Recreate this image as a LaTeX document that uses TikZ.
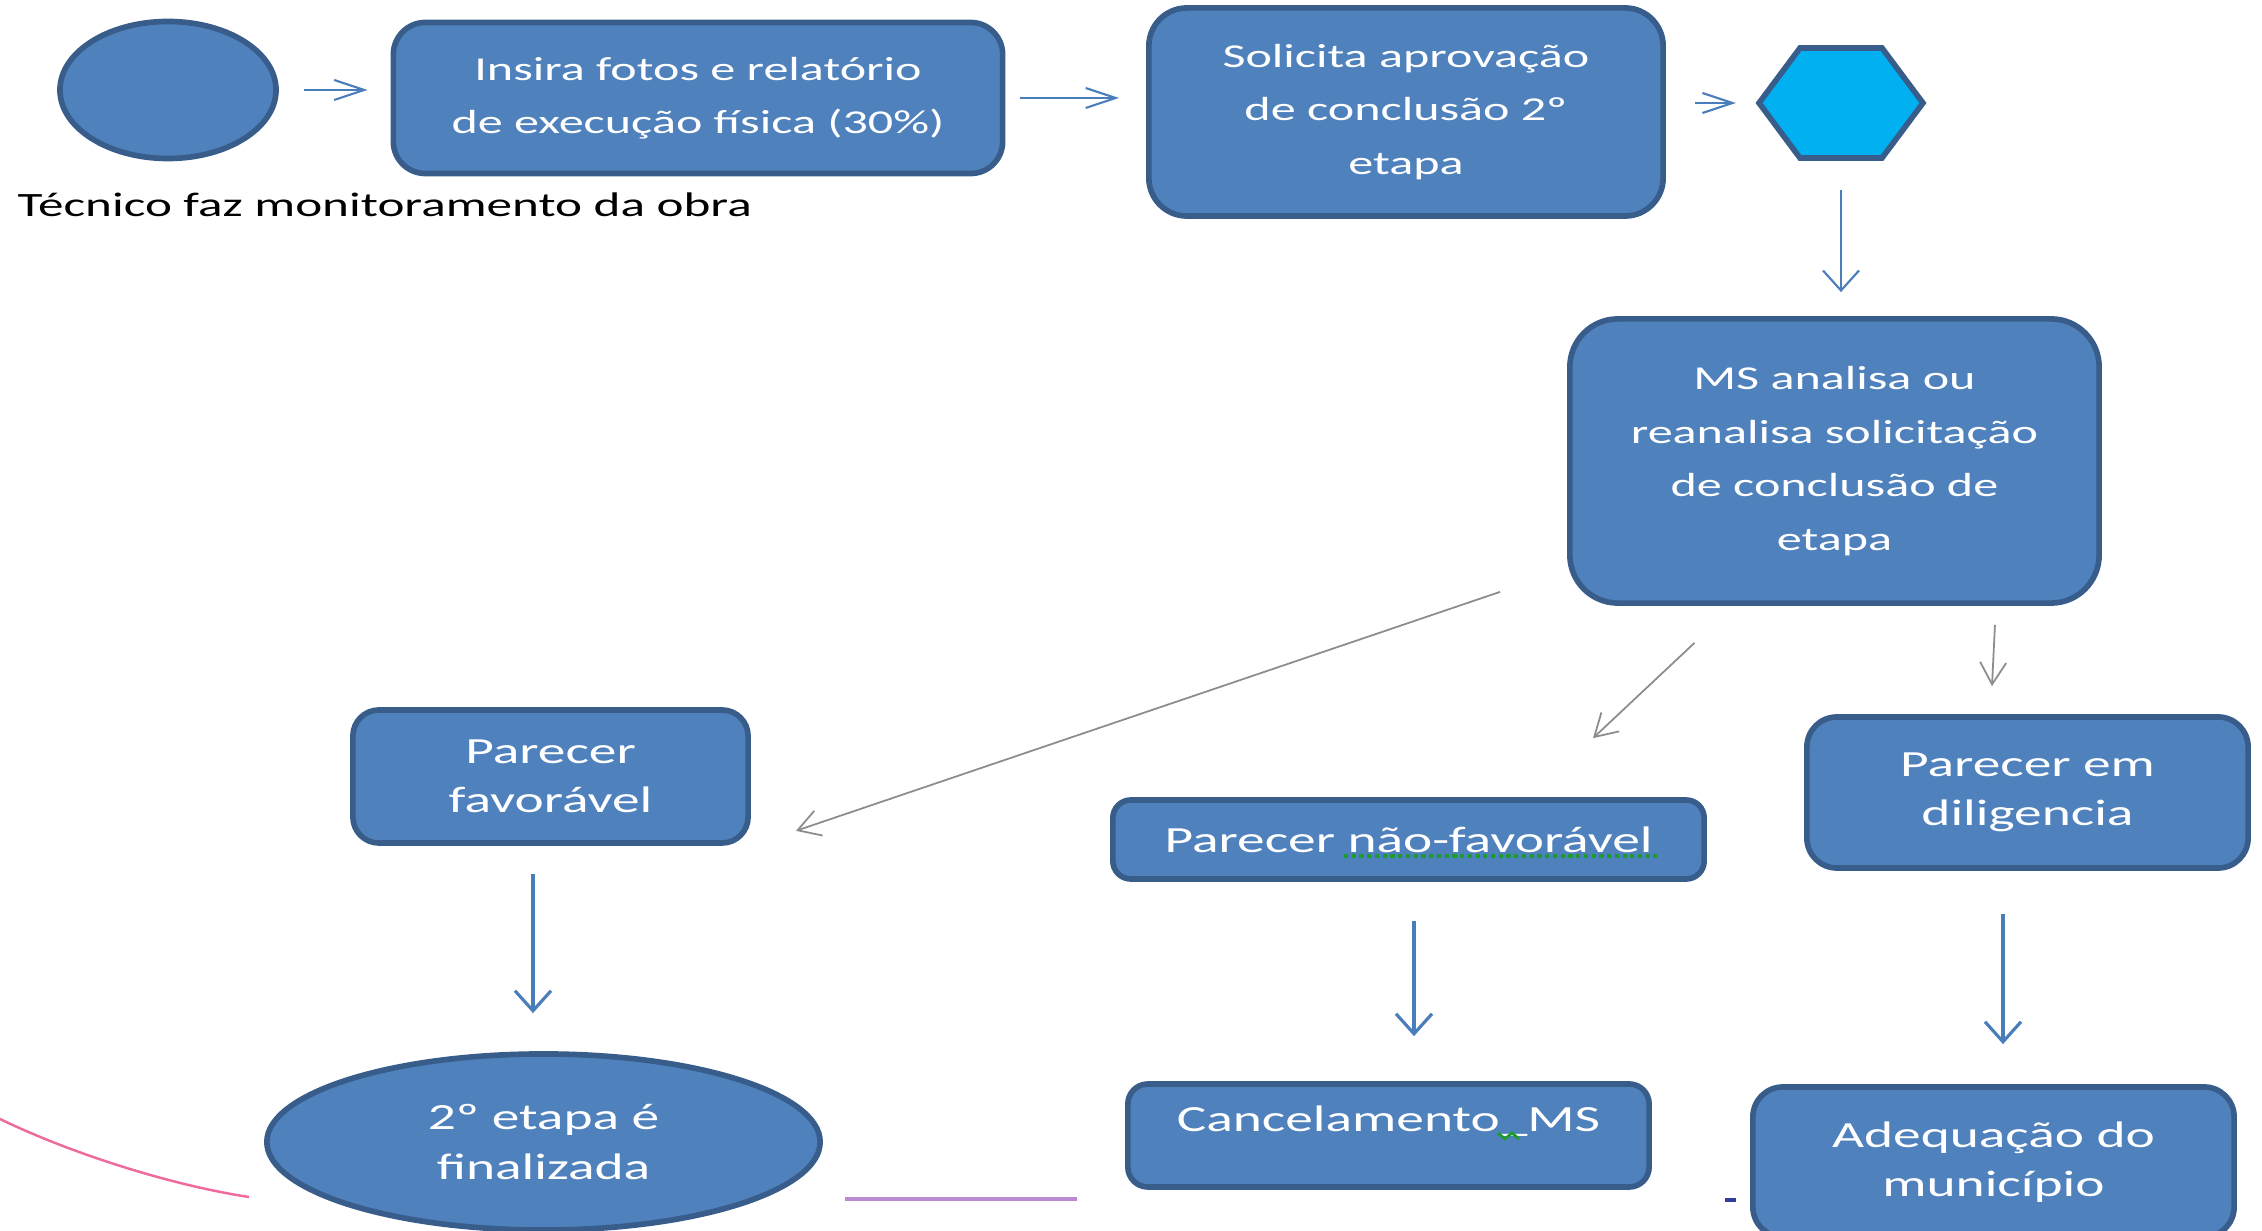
\documentclass[tikz,border=0pt]{standalone}
\usepackage{fontspec}
\setmainfont{Carlito}[FakeStretch=1.5]
\usetikzlibrary{shapes.geometric}
\usetikzlibrary{arrows.meta}
\definecolor{boxfill}{HTML}{4F81BD}
\definecolor{boxline}{HTML}{385D8A}
\definecolor{hexfill}{HTML}{00B0F0}
\definecolor{arrblue}{HTML}{4A7EBB}
\definecolor{arrgray}{HTML}{8C8C8C}
\definecolor{curvepink}{HTML}{EE6A9E}
\definecolor{linepurple}{HTML}{B98AD6}
\definecolor{tickblue}{HTML}{2F3E9E}
\definecolor{spellgreen}{HTML}{1E9A32}
\def\topfont{\fontsize{9.5}{15.2}\selectfont}
\def\lowfont{\fontsize{10.5}{14}\selectfont}

\begin{document}
\begin{tikzpicture}[x=0.01cm, y=-0.01cm,
        etapa/.style={draw=boxline, line width=1.6pt, fill=boxfill, text=white,
            align=center, inner sep=0pt, font=\topfont},
        etapabox/.style={etapa, rectangle, rounded corners=#1},
        harr/.style={draw=arrblue, line width=0.6pt, -{Straight Barb[length=0.3cm, width=0.2cm]}},
        varr/.style={draw=arrblue, line width=0.9pt, -{Straight Barb[length=0.2cm, width=0.36cm]}},
        garr/.style={draw=arrgray, line width=0.5pt, -{Straight Barb[length=0.22cm, width=0.26cm]}}]
        \useasboundingbox (0,0) rectangle (2262,1231);
        \clip (0,0) rectangle (2262,1231);

        \node[etapa, ellipse, minimum width=2.16cm, minimum height=1.37cm] (inicio) at (168,90) {};
        \node[anchor=base west, inner sep=0pt, font=\fontsize{9.7}{12}\selectfont, text=black] (tecnico) at (17,217) {Técnico faz monitoramento da obra};
        \node[etapabox=0.32cm, minimum width=6.09cm, minimum height=1.51cm] (fotos) at (698,98) {Insira fotos e relatório\\ de execução física (30\%)};
        \node[etapabox=0.38cm, minimum width=5.14cm, minimum height=2.08cm] (solicita) at (1406,112) {Solicita aprovação\\ de conclusão 2º\\ etapa};
        \node[etapa, fill=hexfill, regular polygon, regular polygon sides=6, minimum size=1.27cm, xscale=1.29, transform shape] (hex) at (1841,103) {};
        \node[etapabox=0.48cm, minimum width=5.29cm, minimum height=2.84cm] (analisa) at (1834.5,461) {MS analisa ou\\ reanalisa solicitação\\ de conclusão de\\ etapa};

        \node[etapabox=0.26cm, font=\lowfont, minimum width=3.95cm, minimum height=1.33cm] (favoravel) at (550.5,776.5) {Parecer\\ favorável};
        \node[etapabox=0.18cm, font=\lowfont, minimum width=5.91cm, minimum height=0.79cm] (naofav) at (1408.5,839.5) {Parecer não-favorável};
        \node[etapabox=0.3cm, font=\lowfont, minimum width=4.41cm, minimum height=1.51cm] (diligencia) at (2027.5,792.5) {Parecer em\\ diligencia};
        \node[etapa, ellipse, font=\lowfont, minimum width=5.53cm, minimum height=1.76cm] (finalizada) at (543.5,1142) {2º etapa é\\ finalizada};
        \node[etapabox=0.2cm, font=\lowfont, minimum width=5.21cm, minimum height=1.03cm, text height=0.25cm, text depth=0.32cm] (cancela) at (1388.5,1135.5) {Cancelamento\_MS};
        \node[etapabox=0.3cm, font=\lowfont, minimum width=4.81cm, minimum height=1.5cm] (adequa) at (1993.5,1162) {Adequação do\\ município};

        \draw[harr, shorten <=0.25cm, shorten >=0.23cm] (inicio.east) -- (inicio.east -| fotos.west);
        \draw[harr, shorten <=0.14cm, shorten >=0.27cm] (fotos.east) -- (fotos.east -| solicita.west);
        \draw[harr, shorten <=0.29cm, shorten >=0.19cm] (hex.west -| solicita.east) -- (hex.west);
        \draw[varr, line width=0.6pt, shorten <=0.29cm, shorten >=0.24cm] (hex.south) -- (hex.south |- analisa.north);

        \coordinate (a1) at ([shift={(-67,-14)}]analisa.south west);
        \coordinate (a2) at ([shift={(45,-15)}]favoravel.south east);
        \coordinate (b1) at ([shift={(-140,37)}]analisa.south);
        \coordinate (b2) at ([shift={(-114,-59)}]naofav.north east);
        \coordinate (c1) at ([shift={(-107,19)}]analisa.south east);
        \coordinate (c2) at ([shift={(-35.5,-28)}]diligencia.north);
        \draw[garr] (a1) -- (a2);
        \draw[garr] (b1) -- (b2);
        \draw[garr] (c1) -- (c2);

        \draw[varr] ([shift={(-17.5,28)}]favoravel.south) -- ([shift={(-10.5,-38)}]finalizada.north);
        \draw[varr] ([shift={(5.5,39)}]naofav.south) -- ([shift={(25.5,-45)}]cancela.north);
        \draw[varr] ([shift={(-24.5,43)}]diligencia.south) -- ([shift={(9.5,-40)}]adequa.north);

        \draw[curvepink, line width=0.7pt] (0,1119) .. controls (70,1153) and (170,1185) .. (249,1197);
        \draw[linepurple, line width=0.9pt] (845,1199) -- (1077,1199);
        \draw[tickblue, line width=1pt] (1725,1200) -- (1736,1200);
        \draw[spellgreen, line width=1.1pt, dash pattern=on 1.2pt off 1pt] (1344,856) -- (1657,856);
        \draw[spellgreen, line width=0.8pt] (1498,1133) -- (1505,1139) -- (1512,1133) -- (1519,1139);
    \end{tikzpicture}
\end{document}
